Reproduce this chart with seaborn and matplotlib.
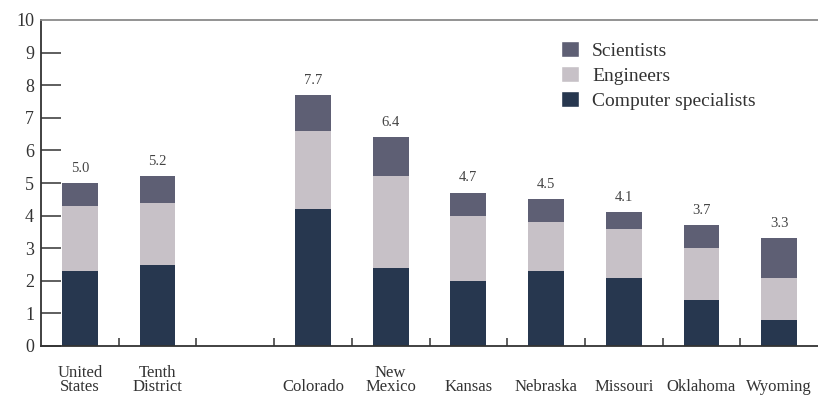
import numpy as np
import pandas as pd
import matplotlib
matplotlib.use("Agg")
import matplotlib.pyplot as plt
from matplotlib.patches import Patch
import seaborn as sns

# Data (percent of employment)
regions = ["United States", "Tenth District", "", "Colorado", "New Mexico",
           "Kansas", "Nebraska", "Missouri", "Oklahoma", "Wyoming"]
tick_labels = ["United\nStates", "Tenth\nDistrict", "", "\nColorado", "New\nMexico",
               "\nKansas", "\nNebraska", "\nMissouri", "\nOklahoma", "\nWyoming"]
computer = [2.3, 2.5, np.nan, 4.2, 2.4, 2.0, 2.3, 2.1, 1.4, 0.8]
engineers = [2.0, 1.9, np.nan, 2.4, 2.8, 2.0, 1.5, 1.5, 1.6, 1.3]
scientists = [0.7, 0.8, np.nan, 1.1, 1.2, 0.7, 0.7, 0.5, 0.7, 1.2]
totals = [5.0, 5.2, np.nan, 7.7, 6.4, 4.7, 4.5, 4.1, 3.7, 3.3]

c_comp = "#27374f"
c_eng = "#c7c1c7"
c_sci = "#5e5f74"
text_c = "#333333"

sns.set_theme(style="white")
plt.rcParams["font.family"] = ["Liberation Serif", "DejaVu Serif"]

df = pd.DataFrame({"region": regions, "comp": computer, "eng": engineers, "sci": scientists})
df["lvl2"] = df["comp"] + df["eng"]
df["lvl3"] = df["lvl2"] + df["sci"]
plot_df = df[df["region"] != ""]

fig = plt.figure(figsize=(8.18, 3.95), dpi=100)
ax = fig.add_axes([41 / 818, 1 - 346 / 395, 1 - 41 / 818, (346 - 20) / 395])

bw = 0.46
for col, color in [("lvl3", c_sci), ("lvl2", c_eng), ("comp", c_comp)]:
    sns.barplot(data=plot_df, x="region", y=col, order=regions, color=color,
                width=bw, saturation=1, linewidth=0, ax=ax, errorbar=None)

# value labels above each stack
for i, t in enumerate(totals):
    if not np.isnan(t):
        ax.annotate(f"{t:.1f}", (i, t), xytext=(0, 6), textcoords="offset points",
                    ha="center", va="bottom", fontsize=10.5, color="#444444")

ax.set_xlim(-0.5, len(regions) - 0.5)
ax.set_ylim(0, 10)
ax.set_xlabel("")
ax.set_ylabel("")

# y axis
ax.set_yticks(range(0, 11))
ax.tick_params(axis="y", direction="in", length=14.5, width=1.1, color=text_c,
               labelsize=13, labelcolor=text_c, pad=5, left=True)
ax.yaxis.get_major_ticks()[-1].tick1line.set_visible(False)

# x axis: labels at bar centres, small marks between categories
ax.set_xticks(range(len(regions)))
ax.set_xticklabels(tick_labels, linespacing=0.78)
ax.set_xticks(np.arange(0.5, len(regions) - 1, 1.0), minor=True)
ax.tick_params(axis="x", which="major", length=0, labelsize=12, labelcolor=text_c, pad=14)
ax.tick_params(axis="x", which="minor", direction="in", length=6, width=1.1,
               color=text_c, bottom=True)

for side in ["left", "bottom"]:
    ax.spines[side].set_color(text_c)
    ax.spines[side].set_linewidth(1.3)
ax.spines["top"].set_color("#8a8a8a")
ax.spines["top"].set_linewidth(1.3)
ax.spines["right"].set_visible(False)
ax.grid(False)

handles = [Patch(facecolor=c_sci, label="Scientists"),
           Patch(facecolor=c_eng, label="Engineers"),
           Patch(facecolor=c_comp, label="Computer specialists")]
fig.legend(handles=handles, loc="upper left", bbox_to_anchor=(561 / 818, 1 - 41 / 395),
           bbox_transform=fig.transFigure, frameon=False, fontsize=14,
           handlelength=0.9, handleheight=0.9, handletextpad=0.7,
           labelspacing=0.32, borderpad=0, borderaxespad=0, labelcolor=text_c)

fig.savefig("out.png", dpi=100)
